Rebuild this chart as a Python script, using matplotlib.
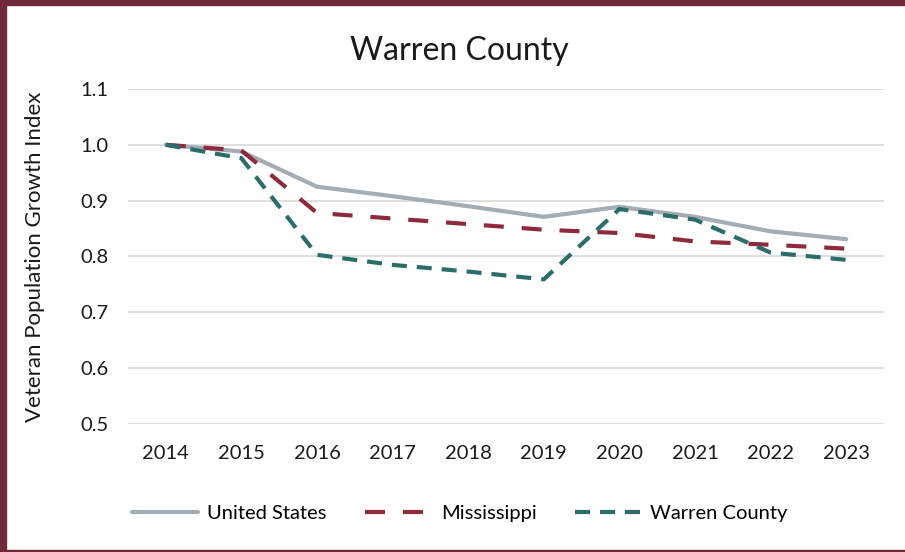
import matplotlib
matplotlib.use("Agg")
import matplotlib.pyplot as plt
from matplotlib.patches import Rectangle

plt.rcParams['font.family'] = ['Lato', 'DejaVu Sans']

years = ['2014', '2015', '2016', '2017', '2018', '2019', '2020', '2021', '2022', '2023']
united_states = [1.000, 0.988, 0.925, 0.908, 0.890, 0.871, 0.889, 0.871, 0.845, 0.831]
mississippi = [1.000, 0.990, 0.878, 0.868, 0.858, 0.848, 0.842, 0.827, 0.821, 0.814]
warren_county = [1.000, 0.976, 0.803, 0.785, 0.773, 0.759, 0.885, 0.866, 0.807, 0.794]

fig = plt.figure(figsize=(9.05, 5.52), dpi=100)
ax = fig.add_axes([0.1414, 0.2319, 0.8354, 0.6069])

x = list(range(len(years)))
ax.plot(x, united_states, color='#A5ACB4', lw=3, solid_capstyle='round', label='United States')
ax.plot(x, mississippi, color='#8E2A3C', lw=3, dashes=(4.8, 4.3), label='Mississippi')
ax.plot(x, warren_county, color='#2A6D6A', lw=3, dashes=(3.6, 2.4), label='Warren County')

ax.set_xlim(-0.5, len(years) - 0.5)
ax.set_ylim(0.5, 1.1)
ax.set_yticks([0.5, 0.6, 0.7, 0.8, 0.9, 1.0, 1.1])
ax.set_yticklabels(['0.5', '0.6', '0.7', '0.8', '0.9', '1.0', '1.1'])
ax.set_xticks(x)
ax.set_xticklabels(years)
ax.tick_params(length=0, labelsize=14.5, colors='#1a1a1a')
ax.tick_params(axis='y', pad=14)
ax.tick_params(axis='x', pad=15)
ax.grid(axis='y', color='#DCDCDC', lw=1.3)
ax.set_axisbelow(True)
for s in ax.spines.values():
    s.set_visible(False)

ax.set_ylabel('Veteran Population Growth Index', fontsize=16, color='#1a1a1a')
ax.yaxis.set_label_coords(-0.11, 0.5)
fig.text(0.508, 0.891, 'Warren County', ha='center', va='baseline', fontsize=23, color='#1a1a1a')

fig.legend(loc='center', bbox_to_anchor=(0.508, 0.069), ncol=3, frameon=False,
           fontsize=14.5, handlelength=3.3, handletextpad=0.45, columnspacing=1.9)

# maroon frame round the picture
fig.patches.append(Rectangle((0, 0), 0.0066, 1, transform=fig.transFigure, color='#722A3B', zorder=10))
fig.patches.append(Rectangle((0, 0.991), 1, 0.009, transform=fig.transFigure, color='#722A3B', zorder=10))
fig.patches.append(Rectangle((0, 0), 1, 0.0045, transform=fig.transFigure, color='#722A3B', zorder=10))

fig.savefig('out.png', dpi=100)
